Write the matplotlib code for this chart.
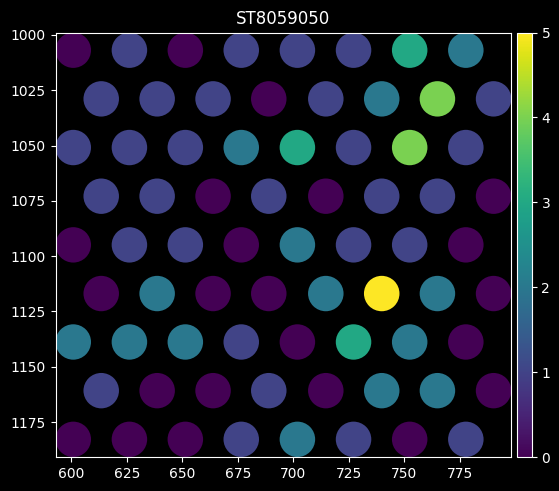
import matplotlib
matplotlib.use("Agg")
import matplotlib.pyplot as plt
import numpy as np
from matplotlib.collections import PatchCollection
from matplotlib.patches import Circle

# spot grid (odd rows start at x_odd, even rows at x_even)
x_odd = [600.9, 626.2, 651.4, 676.6, 701.9, 727.2, 752.5, 777.8]
x_even = [613.5, 638.7, 663.9, 689.0, 714.7, 739.9, 765.0, 790.3]
row_y = [1006.9, 1028.9, 1050.9, 1072.9, 1094.9, 1116.9, 1138.8, 1160.8, 1182.8]

counts = [
    [0, 1, 0, 1, 1, 1, 3, 2],
    [1, 1, 1, 0, 1, 2, 4, 1],
    [1, 1, 1, 2, 3, 1, 4, 1],
    [1, 1, 0, 1, 0, 1, 1, 0],
    [0, 1, 1, 0, 2, 1, 1, 0],
    [0, 2, 0, 0, 2, 5, 2, 0],
    [2, 2, 2, 1, 0, 3, 2, 0],
    [1, 0, 0, 1, 0, 2, 2, 0],
    [0, 0, 0, 1, 2, 1, 0, 1],
]

spot_radius = 8.0
title = "ST8059050"

plt.style.use("dark_background")
fig = plt.figure(figsize=(5.59, 4.91), dpi=100)
ax = fig.add_axes([0.0993, 0.0692, 0.8154, 0.8646])
cax = fig.add_axes([0.9255, 0.0692, 0.0258, 0.8646])

xs, ys, vals = [], [], []
for i, (y, row) in enumerate(zip(row_y, counts)):
    row_x = x_odd if i % 2 == 0 else x_even
    for x, v in zip(row_x, row):
        xs.append(x)
        ys.append(y)
        vals.append(v)

patches = [Circle((x, y), spot_radius) for x, y in zip(xs, ys)]
coll = PatchCollection(patches, cmap="viridis", edgecolor="none")
coll.set_array(np.array(vals, dtype=float))
coll.set_clim(0, 5)
ax.add_collection(coll)

ax.set_xlim(min(xs) - spot_radius, max(xs) + spot_radius)
ax.set_ylim(max(ys) + spot_radius, min(ys) - spot_radius)
ax.set_aspect("auto")
ax.set_xticks([600, 625, 650, 675, 700, 725, 750, 775])
ax.set_yticks([1000, 1025, 1050, 1075, 1100, 1125, 1150, 1175])
ax.set_title(title, fontsize=12)

cb = fig.colorbar(coll, cax=cax)
cb.set_ticks([0, 1, 2, 3, 4, 5])

fig.savefig("out.png", dpi=100)
